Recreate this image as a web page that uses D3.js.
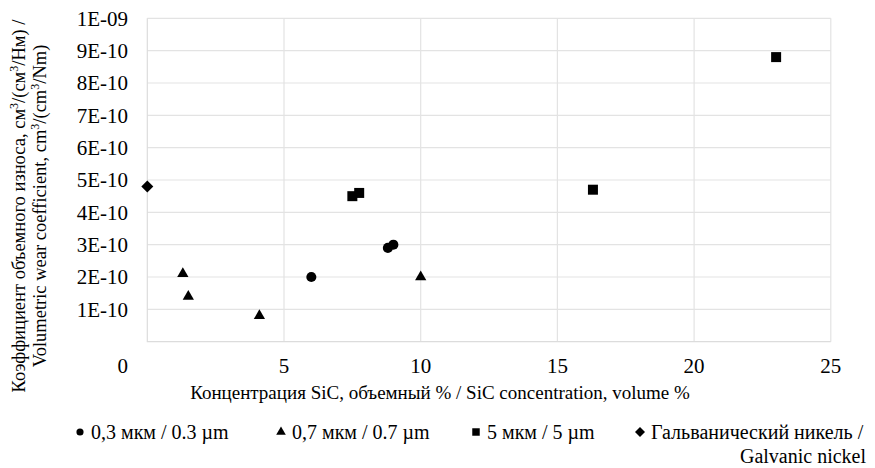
<!DOCTYPE html>
<html>
<head>
<meta charset="utf-8">
<script src="https://cdn.jsdelivr.net/npm/d3@7"></script>
<style>
  body { margin: 0; background: #fff; }
</style>
</head>
<body>
<div id="chart"></div>
<script>
// Data (x = SiC vol %, y = wear coefficient)
const fine03X = [6.0, 8.8, 9.0];
const fine03Y = [2.0e-10, 2.9e-10, 3.0e-10];
const mid07X = [1.3, 1.5, 4.1, 10.0];
const mid07Y = [2.1e-10, 1.4e-10, 0.8e-10, 2.0e-10];
const coarse5X = [7.5, 7.75, 16.3, 23.0];
const coarse5Y = [4.5e-10, 4.6e-10, 4.7e-10, 8.8e-10];
const nickelX = [0];
const nickelY = [4.8e-10];

const xTicks = [5, 10, 15, 20, 25];
const yTicks = [1e-10, 2e-10, 3e-10, 4e-10, 5e-10, 6e-10, 7e-10, 8e-10, 9e-10, 1e-9];
const yTickLabels = ["1E-10", "2E-10", "3E-10", "4E-10", "5E-10", "6E-10", "7E-10", "8E-10", "9E-10", "1E-09"];

const FONT = '"Liberation Serif"';

const svg = d3.select("#chart").append("svg")
    .attr("width", 875)
    .attr("height", 468);

const plot = { left: 147.3, right: 830.8, top: 18.3, bottom: 341.7 };

const x = d3.scaleLinear().domain([0, 25]).range([plot.left, plot.right]);
const y = d3.scaleLinear().domain([0, 1e-9]).range([plot.bottom, plot.top]);

// gridlines
svg.append("g")
    .selectAll("line")
    .data(yTicks)
    .join("line")
    .attr("x1", plot.left).attr("x2", plot.right)
    .attr("y1", d => y(d)).attr("y2", d => y(d))
    .attr("stroke", "#e3e3e3").attr("stroke-width", 1.2);

svg.append("g")
    .selectAll("line")
    .data(xTicks)
    .join("line")
    .attr("x1", d => x(d)).attr("x2", d => x(d))
    .attr("y1", plot.top).attr("y2", plot.bottom)
    .attr("stroke", "#e3e3e3").attr("stroke-width", 1.2);

// plot area border (left + bottom)
svg.append("path")
    .attr("d", `M${plot.left},${plot.top}V${plot.bottom}H${plot.right}`)
    .attr("fill", "none")
    .attr("stroke", "#dcdcdc").attr("stroke-width", 1.2);

// y tick labels
svg.append("g")
    .selectAll("text")
    .data(yTicks)
    .join("text")
    .attr("x", 128)
    .attr("y", d => y(d))
    .attr("dy", "0.35em")
    .attr("text-anchor", "end")
    .style("font-family", FONT)
    .style("font-size", "21px")
    .text((d, i) => yTickLabels[i]);

// x tick labels
svg.append("g")
    .selectAll("text")
    .data(xTicks)
    .join("text")
    .attr("x", d => x(d))
    .attr("y", 373)
    .attr("text-anchor", "middle")
    .style("font-family", FONT)
    .style("font-size", "21px")
    .text(d => d);

// lone zero label
svg.append("text")
    .attr("x", 128)
    .attr("y", 373)
    .attr("text-anchor", "end")
    .style("font-family", FONT)
    .style("font-size", "21px")
    .text("0");

// Add X axis label
svg.append("text")
    .attr("x", 440)
    .attr("y", 399)
    .attr("text-anchor", "middle")
    .style("font-family", FONT)
    .style("font-size", "19px")
    .text("Концентрация SiC, объемный % / SiC concentration, volume %");

// Add Y axis label (two lines)
const yLabel = svg.append("text")
    .attr("transform", "translate(0,206) rotate(-90)")
    .attr("text-anchor", "middle")
    .style("font-family", FONT)
    .style("font-size", "18.5px");
yLabel.append("tspan").attr("x", 0).attr("y", 25)
    .html('Коэффициент объемного износа, см<tspan baseline-shift="super" font-size="12px">3</tspan>/(см<tspan baseline-shift="super" font-size="12px">3</tspan>/Нм) /');
yLabel.append("tspan").attr("x", 0).attr("y", 46)
    .html('Volumetric wear coefficient, cm<tspan baseline-shift="super" font-size="12px">3</tspan>/(cm<tspan baseline-shift="super" font-size="12px">3</tspan>/Nm)');

// series
const series = [
    { xs: fine03X, ys: fine03Y, type: d3.symbolCircle, size: 80, rot: 0, label: "0,3 мкм / 0.3 µm" },
    { xs: mid07X, ys: mid07Y, type: d3.symbolTriangle, size: 55, rot: 0, label: "0,7 мкм / 0.7 µm" },
    { xs: coarse5X, ys: coarse5Y, type: d3.symbolSquare, size: 100, rot: 0, label: "5 мкм / 5 µm" },
    { xs: nickelX, ys: nickelY, type: d3.symbolSquare, size: 72, rot: 45, label: "Гальванический никель /" }
];

series.forEach(s => {
    svg.append("g")
        .selectAll("path")
        .data(s.xs.map((v, i) => [v, s.ys[i]]))
        .join("path")
        .attr("d", d3.symbol().type(s.type).size(s.size))
        .attr("transform", d => `translate(${x(d[0])},${y(d[1])}) rotate(${s.rot})`)
        .attr("fill", "#000");
});

// legend
const legendX = [80, 281, 476, 640];
const legendSym = [
    { type: d3.symbolCircle, size: 40, rot: 0 },
    { type: d3.symbolTriangle, size: 40, rot: 0 },
    { type: d3.symbolSquare, size: 56, rot: 0 },
    { type: d3.symbolSquare, size: 50, rot: 45 }
];
const legend = svg.append("g");
series.forEach((s, i) => {
    legend.append("path")
        .attr("d", d3.symbol().type(legendSym[i].type).size(legendSym[i].size))
        .attr("transform", `translate(${legendX[i]},432) rotate(${legendSym[i].rot})`)
        .attr("fill", "#000");
    legend.append("text")
        .attr("x", legendX[i] + 11)
        .attr("y", 439)
        .style("font-family", FONT)
        .style("font-size", "20px")
        .text(s.label);
});
legend.append("text")
    .attr("x", 866)
    .attr("y", 463)
    .attr("text-anchor", "end")
    .style("font-family", FONT)
    .style("font-size", "20px")
    .text("Galvanic nickel");
</script>
</body>
</html>
